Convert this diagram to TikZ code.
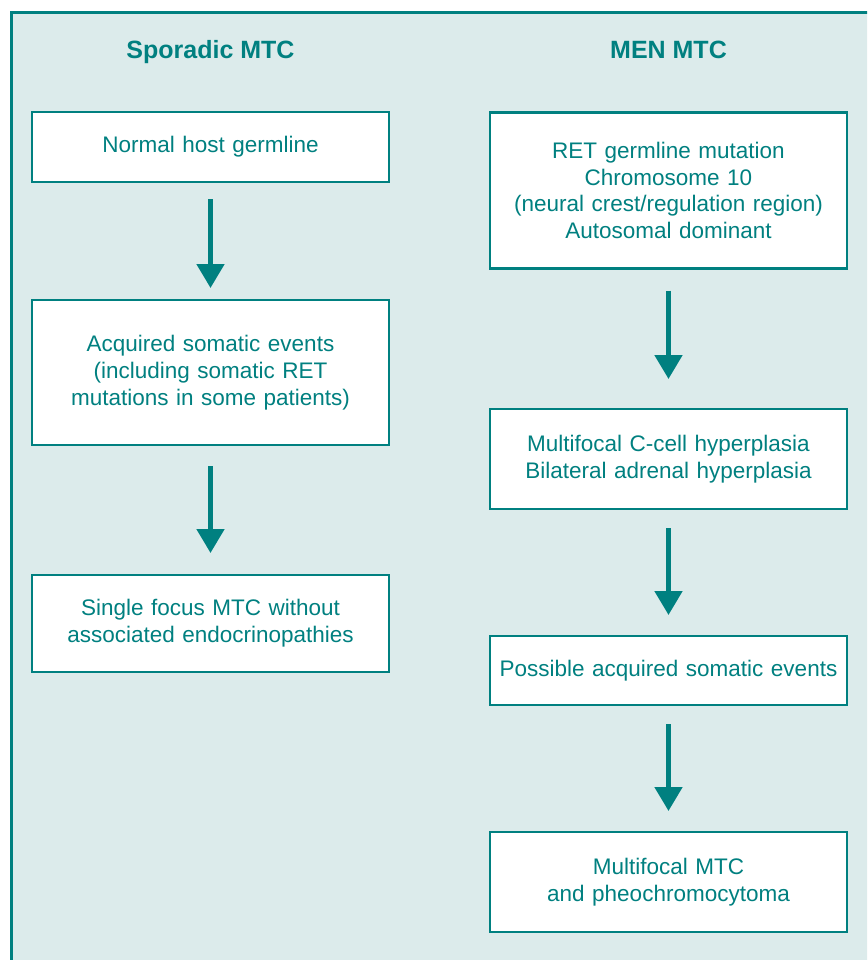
\documentclass[tikz,border=0pt]{standalone}
\usepackage{fontspec}
\setmainfont{Liberation Sans}
\usepackage{tikz}
\usetikzlibrary{arrows.meta}
\definecolor{mtcteal}{RGB}{0,128,128}
\definecolor{mtcpale}{RGB}{220,235,235}

\begin{document}
\begin{tikzpicture}[>={Triangle[width=27pt,length=24pt]}, box/.style={draw=mtcteal, fill=white, line width=2.6pt, minimum width=357pt, text width=345pt, align=center, inner sep=0pt, outer sep=0pt, text=mtcteal, font=\fontsize{22.5pt}{26.7pt}\selectfont}, title/.style={anchor=base, text=mtcteal, font=\fontsize{25pt}{30pt}\selectfont\bfseries}, line width=5pt, draw=mtcteal]
	\useasboundingbox (0pt, 0pt) rectangle (867pt, -960pt);
	\clip (0pt, 0pt) rectangle (867pt, -960pt);
	\draw[fill=mtcpale, line width=3pt] (11.8pt, -12.5pt) rectangle (900pt, -1000pt);
	\draw (210.5pt, -59.0pt)node[title](sporadic){Sporadic MTC};
	\draw (668.5pt, -59.0pt)node[title](men){MEN MTC};
	\draw (210.5pt, -147.0pt)node[box, minimum height=70pt](l1){Normal host germline};
	\draw (210.5pt, -372.5pt)node[box, minimum height=145pt](l2){Acquired somatic events\\(including somatic RET\\mutations in some patients)};
	\draw (210.5pt, -623.5pt)node[box, minimum height=97pt](l3){Single focus MTC without\\associated endocrinopathies};
	\draw (668.5pt, -190.5pt)node[box, minimum height=156pt](r1){RET germline mutation\\Chromosome 10\\(neural crest/regulation region)\\Autosomal dominant};
	\draw (668.5pt, -459.0pt)node[box, minimum height=100pt](r2){Multifocal C-cell hyperplasia\\Bilateral adrenal hyperplasia};
	\draw (668.5pt, -670.5pt)node[box, minimum height=69pt](r3){Possible acquired somatic events};
	\draw (668.5pt, -882.0pt)node[box, minimum height=100pt](r4){Multifocal MTC\\and pheochromocytoma};
	\path[->, draw=mtcteal] (l1) edge[shorten <=17pt, shorten >=12pt] (l2);
	\path[->, draw=mtcteal] (l2) edge[shorten <=21pt, shorten >=22pt] (l3);
	\path[->, draw=mtcteal] (r1) edge[shorten <=22pt, shorten >=30pt] (r2);
	\path[->, draw=mtcteal] (r2) edge[shorten <=19pt, shorten >=21pt] (r3);
	\path[->, draw=mtcteal] (r3) edge[shorten <=19pt, shorten >=21pt] (r4);
\end{tikzpicture}
\end{document}
